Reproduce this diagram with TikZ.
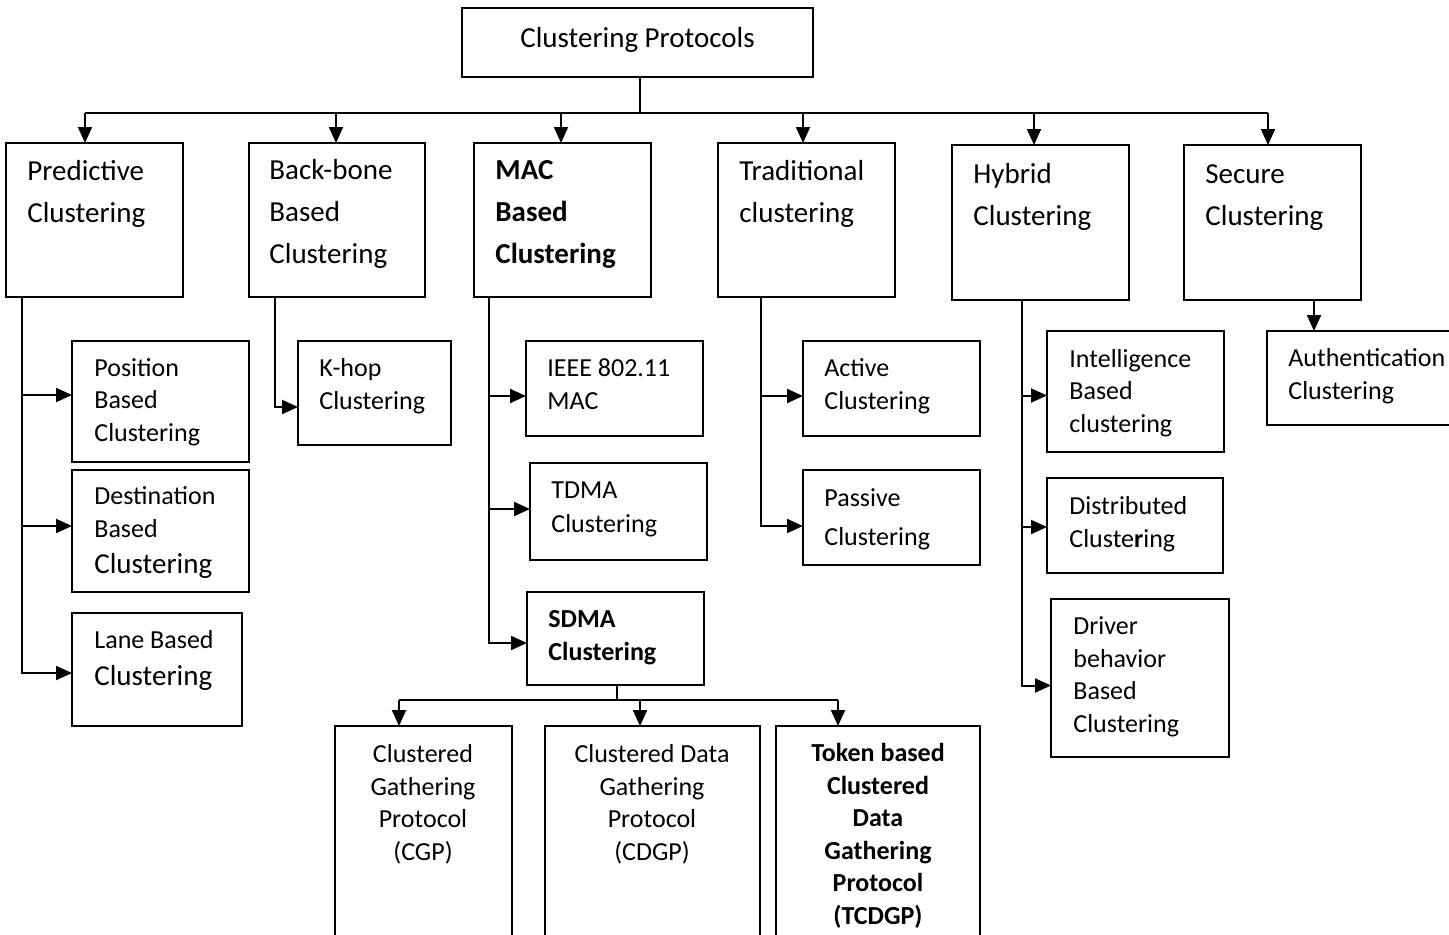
\documentclass[tikz,border=0pt]{standalone}
\usepackage{fontspec}
\setmainfont{Carlito}
\usetikzlibrary{arrows.meta,fit}

\tikzset{
  box/.style={draw, line width=1pt, inner sep=0pt, outer sep=0pt},
  big/.style={font=\fontsize{14.5}{21}\selectfont, inner sep=0pt, align=left, anchor=base west},
  sml/.style={font=\fontsize{13}{16.25}\selectfont, inner sep=0pt, align=left, anchor=base west},
  mid/.style={font=\fontsize{13}{16.25}\selectfont, inner sep=0pt, align=center, anchor=base},
  ln/.style={line width=1pt},
  arr/.style={-{Triangle[length=8pt,width=7pt]}, line width=1pt},
}
\newcommand{\bigtxt}{\fontsize{14.5}{21}\selectfont}

\begin{document}
\begin{tikzpicture}[x=0.5pt,y=-0.5pt]
  \useasboundingbox (0,0) rectangle (1449,934);
  \clip (0,0) rectangle (1449,934);

  % root (text nodes sit on the baseline of their last line)
  \node[box,fit={(462,8) (813,77)}] (top) {};
  \node[big,anchor=base] (toptxt) at (637.5,47) {Clustering Protocols};

  % first level
  \node[box,fit={(6,143) (183,297)}] (pred) {};
  \node[big] (predtxt) at (27,222) {Predictive\\Clustering};
  \node[box,fit={(249,143) (425,297)}] (bone) {};
  \node[big] (bonetxt) at (269,263) {Back-bone\\Based\\Clustering};
  \node[box,fit={(474,143) (651,297)}] (mac) {};
  \node[big,font=\bigtxt\bfseries] (mactxt) at (495,263) {MAC\\Based\\Clustering};
  \node[box,fit={(718,143) (895,297)}] (trad) {};
  \node[big] (tradtxt) at (739,222) {Traditional\\clustering};
  \node[box,fit={(952,145) (1129,300)}] (hyb) {};
  \node[big] (hybtxt) at (973,225) {Hybrid\\Clustering};
  \node[box,fit={(1184,145) (1361,300)}] (sec) {};
  \node[big] (sectxt) at (1205,225) {Secure\\Clustering};

  \coordinate (bus) at (640,113);
  \draw[ln] (top.south -| bus) -- (bus);
  \draw[ln] (bus -| 85,0) -- (bus -| 1268,0);
  \foreach \n/\x in {pred/85,bone/336,mac/561,trad/803,hyb/1034,sec/1268}
    \draw[arr] (bus -| \x,0) -- (\n.north -| \x,0);

  % predictive
  \node[box,fit={(72,341) (249,462)}] (pos) {};
  \node[sml] (postxt) at (94,441) {Position\\Based\\Clustering};
  \node[box,fit={(72,470) (249,592)}] (dest) {};
  \node[sml] (desttxt) at (94,573) {Destination\\Based\\[1.75pt]{\bigtxt Clustering}};
  \node[box,fit={(72,613) (242,726)}] (lane) {};
  \node[sml] (lanetxt) at (94,685) {Lane Based\\[2.25pt]{\bigtxt Clustering}};
  \draw[arr] (pred.south -| 22,0) |- ([yshift=3.25pt]pos.west);
  \draw[arr] (pred.south -| 22,0) |- ([yshift=2.5pt]dest.west);
  \draw[arr] (pred.south -| 22,0) |- ([yshift=-1.75pt]lane.west);

  % back-bone
  \node[box,fit={(298,341) (451,445)}] (khop) {};
  \node[sml] (khoptxt) at (319,409) {K-hop\\Clustering};
  \draw[arr] (bone.south -| 275,0) |- ([yshift=-7pt]khop.west);

  % mac
  \node[box,fit={(526,341) (703,436)}] (ieee) {};
  \node[sml] (ieeetxt) at (547,409) {IEEE 802.11\\MAC};
  \node[box,fit={(530,463) (707,560)}] (tdma) {};
  \node[sml] (tdmatxt) at (551,532) {TDMA\\[0.5pt]Clustering};
  \node[box,fit={(527,592) (704,685)}] (sdma) {};
  \node[sml,font=\fontsize{13}{16.25}\selectfont\bfseries] (sdmatxt) at (548,660) {SDMA\\Clustering};
  \draw[arr] (mac.south -| 489,0) |- ([yshift=-3.75pt]ieee.west);
  \draw[arr] (mac.south -| 489,0) |- ([yshift=1.25pt]tdma.west);
  \draw[arr] (mac.south -| 489,0) |- ([yshift=-2.25pt]sdma.west);

  % sdma
  \node[box,fit={(335,726) (512,960)}] (cgp) {};
  \node[mid] (cgptxt) at (423,860) {Clustered\\Gathering\\Protocol\\(CGP)};
  \node[box,fit={(545,726) (760,960)}] (cdgp) {};
  \node[mid] (cdgptxt) at (652,860) {Clustered Data\\Gathering\\Protocol\\(CDGP)};
  \node[box,fit={(776,726) (980,960)}] (tcdgp) {};
  \node[mid,font=\fontsize{13}{16.25}\selectfont\bfseries] (tcdgptxt) at (878,924) {Token based\\Clustered\\Data\\Gathering\\Protocol\\(TCDGP)};
  \coordinate (sbus) at (617,700);
  \draw[ln] (sdma.south -| sbus) -- (sbus);
  \draw[ln] (sbus -| 399,0) -- (sbus -| 838,0);
  \foreach \n/\x in {cgp/399,cdgp/640,tcdgp/838}
    \draw[arr] (sbus -| \x,0) -- (\n.north -| \x,0);

  % traditional
  \node[box,fit={(803,341) (980,436)}] (act) {};
  \node[sml] (acttxt) at (824,409) {Active\\Clustering};
  \node[box,fit={(803,470) (980,565)}] (pass) {};
  \node[sml] (passtxt) at (824,545) {Passive\\[3.25pt]Clustering};
  \draw[arr] (trad.south -| 761,0) |- ([yshift=-3.75pt]act.west);
  \draw[arr] (trad.south -| 761,0) |- ([yshift=-4.25pt]pass.west);

  % hybrid
  \node[box,fit={(1047,331) (1224,452)}] (intel) {};
  \node[sml] (inteltxt) at (1069,432) {Intelligence\\Based\\clustering};
  \node[box,fit={(1047,478) (1223,573)}] (dist) {};
  \node[sml] (disttxt) at (1069,547) {Distributed\\Cluste\textbf{r}ing};
  \node[box,fit={(1051,599) (1229,757)}] (drv) {};
  \node[sml] (drvtxt) at (1073,732) {Driver\\behavior\\Based\\Clustering};
  \draw[arr] (hyb.south -| 1022,0) |- ([yshift=-2pt]intel.west);
  \draw[arr] (hyb.south -| 1022,0) |- ([yshift=-0.75pt]dist.west);
  \draw[arr] (hyb.south -| 1022,0) |- ([yshift=-3.75pt]drv.west);

  % secure
  \node[box,fit={(1267,331) (1470,425)}] (auth) {};
  \node[sml] (authtxt) at (1288,399) {Authentication\\Clustering};
  \draw[arr] (sec.south -| 1314,0) -- (auth.north -| 1314,0);
\end{tikzpicture}
\end{document}
